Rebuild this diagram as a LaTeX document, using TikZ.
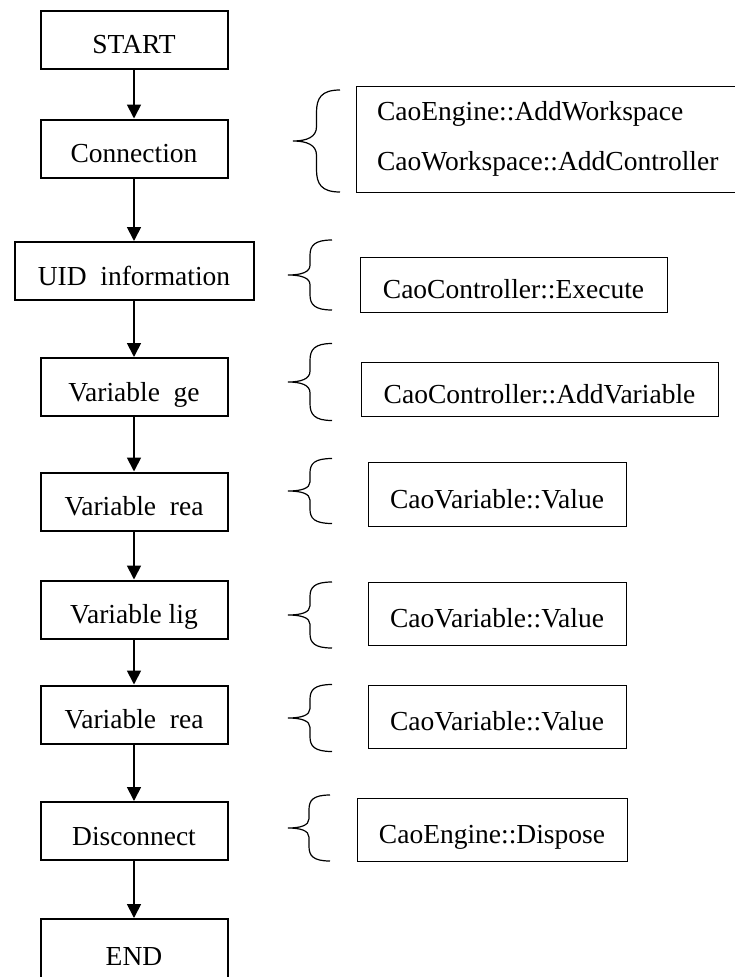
\documentclass[tikz,border=0pt]{standalone}
\usepackage{fontspec}
\setmainfont{Liberation Serif}
\usetikzlibrary{arrows.meta,positioning}

\tikzset{
  block/.style={draw, line width=2pt, minimum width=187pt, minimum height=58pt, inner sep=0pt, text height=28pt, text depth=0pt},
  callbox/.style={draw, line width=1pt, inner sep=0pt, text height=28pt, text depth=0pt},
  flow/.style={line width=1.8pt, -{Triangle[width=14pt,length=14pt]}},
  brace w/.store in=\bracew, brace w=44,
  brace h/.store in=\braceh, brace h=70,
  lbrace/.pic={
    \draw[line width=1.2pt] (\bracew,{-0.5*\braceh})
      .. controls ({0.6*\bracew},{-0.5*\braceh}) and ({0.5*\bracew},{-0.42*\braceh}) .. ({0.5*\bracew},{-0.28*\braceh})
      -- ({0.5*\bracew},{-0.14*\braceh})
      .. controls ({0.5*\bracew},{-0.04*\braceh}) and ({0.3*\bracew},0) .. (0,0)
      .. controls ({0.3*\bracew},0) and ({0.5*\bracew},{0.04*\braceh}) .. ({0.5*\bracew},{0.14*\braceh})
      -- ({0.5*\bracew},{0.28*\braceh})
      .. controls ({0.5*\bracew},{0.42*\braceh}) and ({0.6*\bracew},{0.5*\braceh}) .. (\bracew,{0.5*\braceh});
  }
}

\begin{document}
\begin{tikzpicture}[x=1pt, y=-1pt, on grid, every node/.style={font=\fontsize{27.5}{32}\selectfont}]
  \useasboundingbox (0,0) rectangle (734,977);

  % flow chart
  \node[block] at (134,39.5)                          (start)   {START};
  \node[block, below=109pt of start]                  (conn)    {Connection};
  \node[block, below=122.5pt of conn, minimum width=239pt] (uid) {UID\ \ information};
  \node[block, below=116pt of uid]                    (varge)   {Variable\ \ ge};
  \node[block, below=114.5pt of varge]                (varrea)  {Variable\ \ rea};
  \node[block, below=108pt of varrea]                 (varlig)  {Variable\ lig};
  \node[block, below=105pt of varlig]                 (varread) {Variable\ \ rea};
  \node[block, below=116.5pt of varread]              (disc)    {Disconnect};
  \node[block, below=120pt of disc, minimum height=64pt] (finish) {END};

  \draw[flow] (start)   -- (conn);
  \draw[flow] (conn)    -- (uid);
  \draw[flow] (uid)     -- (varge);
  \draw[flow] (varge)   -- (varrea);
  \draw[flow] (varrea)  -- (varlig);
  \draw[flow] (varlig)  -- (varread);
  \draw[flow] (varread) -- (disc);
  \draw[flow] (disc)    -- (finish);

  % API calls
  \node[draw, line width=1pt, inner sep=0pt, minimum width=420pt, minimum height=106pt,
        text width=378pt, align=left, font=\fontsize{27.5}{50}\selectfont] at (566,139) (api1)
        {CaoEngine::AddWorkspace\\CaoWorkspace::AddController};
  \node[callbox, minimum width=307pt, minimum height=55pt] at (513.5,284.5) (api2) {CaoController::Execute};
  \node[callbox, minimum width=357pt, minimum height=54pt] at (539.5,389)   (api3) {CaoController::AddVariable};
  \node[callbox, minimum width=258pt, minimum height=64pt] at (497,494)     (api4) {CaoVariable::Value};
  \node[callbox, minimum width=258pt, minimum height=63pt] at (497,613.5)   (api5) {CaoVariable::Value};
  \node[callbox, minimum width=258pt, minimum height=63pt] at (497,716.5)   (api6) {CaoVariable::Value};
  \node[callbox, minimum width=270pt, minimum height=63pt] at (492,829.5)   (api7) {CaoEngine::Dispose};

  % braces
  \pic[brace w=47, brace h=102] at (293,141) {lbrace};
  \pic[brace h=70] at (288,275) {lbrace};
  \pic[brace h=77] at (288,382) {lbrace};
  \pic[brace h=65] at (288,491) {lbrace};
  \pic[brace h=66] at (288,615) {lbrace};
  \pic[brace h=67] at (288,718) {lbrace};
  \pic[brace w=42, brace h=66] at (288,828) {lbrace};
\end{tikzpicture}
\end{document}
